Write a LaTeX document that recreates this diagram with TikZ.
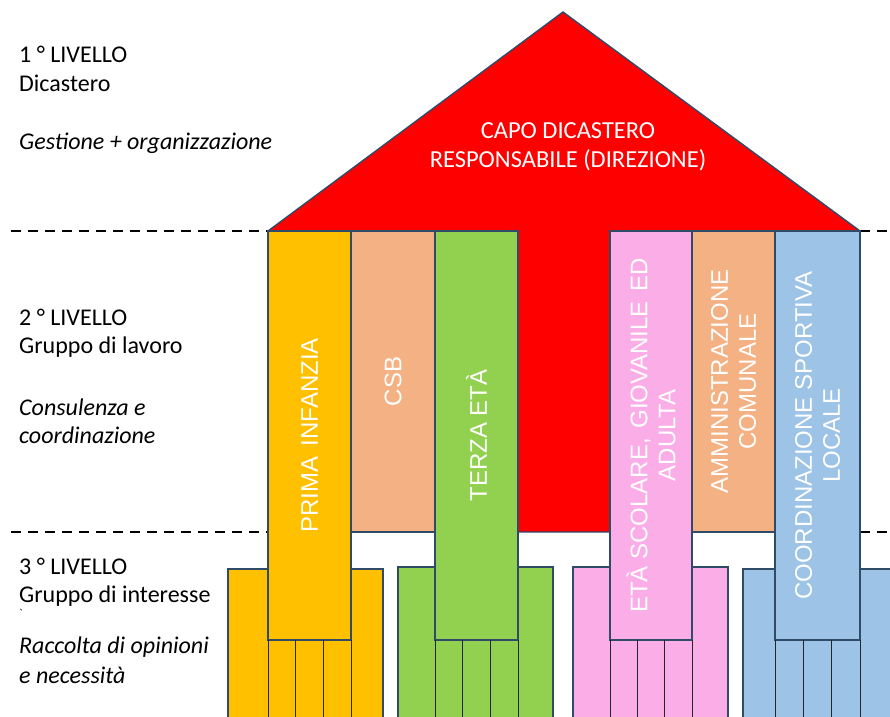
\documentclass[tikz,border=0pt]{standalone}
\usepackage{fontspec}
\setmainfont{Carlito}
\newfontfamily\arialf{Liberation Sans}
\usetikzlibrary{calc}
\definecolor{edgec}{HTML}{2F4B68}
\definecolor{gold}{HTML}{FFC000}
\definecolor{peach}{HTML}{F4B183}
\definecolor{lgreen}{HTML}{92D050}
\definecolor{pinkc}{HTML}{FBADE8}
\definecolor{lblue}{HTML}{9DC3E6}
\definecolor{sublinec}{HTML}{262626}
\begin{document}
\begin{tikzpicture}[x=1pt,y=-1pt,
  outl/.style={draw=edgec, line width=1.4pt},
  mainbox/.style={outl, anchor=north west, minimum width=83pt, inner sep=0pt, outer sep=0pt},
  groupbox/.style={outl, anchor=north west, minimum width=155pt, minimum height=170pt, inner sep=0pt, outer sep=0pt},
  vtext/.style={rotate=90, text=white, font=\arialf\fontsize{24}{28}\selectfont, align=center, inner sep=0pt},
  lefttext/.style={anchor=base west, inner sep=0pt, font=\fontsize{24}{28}\selectfont},
  leftital/.style={lefttext, font=\fontsize{24}{28}\selectfont\itshape},
  dashline/.style={line width=1.8pt, dash pattern=on 10pt off 7pt},
  subline/.style={draw=sublinec, line width=1pt},
]
\useasboundingbox (0,0) rectangle (890,716);

% dashed level separators
\coordinate (d1s) at (11,231);
\coordinate (d2s) at (11,532);
\coordinate (d1e) at (890,231);
\coordinate (d2e) at (890,532);
\coordinate (hl1) at (268,231);
\coordinate (hl2) at (268,532);
\coordinate (hr1) at (860,231);
\coordinate (hr2) at (860,532);
\draw[dashline] (d1s) -- (hl1);
\draw[dashline] (d2s) -- (hl2);
\draw[dashline] (hr1) -- (d1e);
\draw[dashline] (hr2) -- (d2e);

% level 3 groups
\node[groupbox, fill=gold] (g1) at (228,569) {};
\node[groupbox, fill=lgreen] (g2) at (398,567) {};
\node[groupbox, fill=pinkc] (g3) at (573,567) {};
\node[groupbox, fill=lblue] (g4) at (743,569) {};

% house
\coordinate (apex) at (563,12);
\draw[outl, fill=red] (hl1) -- (apex) -- (hr1) -- (hr2) -- (hl2) -- cycle;
\node[text=white, align=center, font=\fontsize{24.5}{29}\selectfont] (capo) at (568,147) {CAPO DICASTERO\\RESPONSABILE (DIREZIONE)};

% level 2 boxes
\node[mainbox, fill=gold, minimum height=409pt] (pi) at (268,231) {};
\node[mainbox, fill=peach, minimum width=84pt, minimum height=301pt] (csb) at (351,231) {};
\node[mainbox, fill=lgreen, minimum height=409pt] (te) at (435,231) {};
\node[mainbox, fill=pinkc, minimum width=82pt, minimum height=409pt] (es) at (610,231) {};
\node[mainbox, fill=peach, minimum height=301pt] (ac) at (692,231) {};
\node[mainbox, fill=lblue, minimum width=85pt, minimum height=409pt] (cs) at (775,231) {};

% sub-group lines
\foreach \b in {pi,te,es,cs}{
  \foreach \f in {0,1/3,2/3,1}{
    \coordinate (tmp) at ($(\b.south west)!\f!(\b.south east)$);
    \draw[subline] (tmp) -- (tmp |- 0,720);
  }
}

% vertical labels
\node[vtext] (tpi) at (pi.center) {PRIMA\hspace{0.45em}INFANZIA};
\node[vtext] (tcsb) at (csb.center) {CSB};
\node[vtext] (tte) at (te.center) {TERZA ETÀ};
\node[vtext] (tes) at (es.center) {ETÀ SCOLARE,\hspace{0.4em}GIOVANILE\hspace{0.4em}ED\\ADULTA};
\node[vtext] (tac) at (ac.center) {AMMINISTRAZIONE\\COMUNALE};
\node[vtext] (tcs) at (cs.center) {COORDINAZIONE SPORTIVA\\LOCALE};

% left texts
\node[lefttext] (l1a) at (19,62) {1 ° LIVELLO};
\node[lefttext] (l1b) at (19,91) {Dicastero};
\node[leftital] (l1c) at (19,149) {Gestione + organizzazione};
\node[lefttext] (l2a) at (19,325) {2 ° LIVELLO};
\node[lefttext] (l2b) at (19,353) {Gruppo di lavoro};
\node[leftital] (l2c) at (19,415) {Consulenza e};
\node[leftital] (l2d) at (19,443) {coordinazione};
\node[lefttext] (l3a) at (19,574) {3 ° LIVELLO};
\node[lefttext] (l3b) at (19,602) {Gruppo di interesse};
\node[lefttext, font=\fontsize{12}{14}\selectfont] (l3x) at (19,617) {\textasciigrave};
\node[leftital] (l3c) at (19,653) {Raccolta di opinioni};
\node[leftital] (l3d) at (19,683) {e necessità};
\end{tikzpicture}
\end{document}
